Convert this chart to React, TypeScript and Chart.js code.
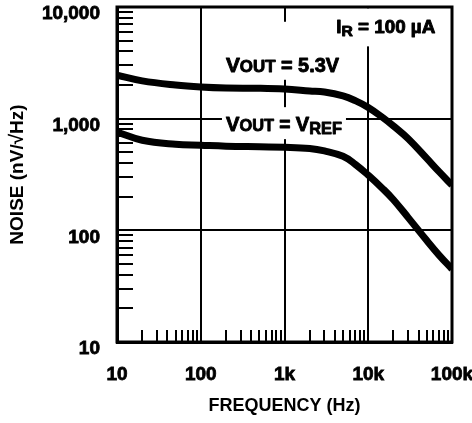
import React, { useEffect, useRef } from "react";
import { Chart, registerables } from "chart.js";

Chart.register(...registerables);

// ---- data ----
const frequencies = [10, 20, 50, 100, 200, 500, 1000, 2000, 3000, 5000, 7000, 10000, 15000, 20000, 30000, 50000, 70000, 100000];
const noiseVout53 = [2450, 2180, 2000, 1920, 1880, 1870, 1840, 1770, 1730, 1600, 1450, 1260, 1020, 860, 660, 440, 335, 254];
const noiseVoutVref = [760, 641, 590, 578, 567, 560, 555, 541, 514, 460, 390, 312, 235, 188, 130, 81, 60, 45];

const xTickValues = [10, 100, 1000, 10000, 100000];
const xTickLabels = ["10", "100", "1k", "10k", "100k"];
const yTickValues = [10, 100, 1000, 10000];
const yTickLabels = ["10", "100", "1,000", "10,000"];
const minorMultipliers = [2, 3, 4, 5, 6, 7, 8, 9];

const xTitle = "FREQUENCY (Hz)";
const yTitle = "NOISE (nV/\u221AHz)";

const FONT = "'Liberation Sans', Arial, Helvetica, sans-serif";

function minorsFor(majors: number[]) {
  const out: number[] = [];
  for (let i = 0; i < majors.length - 1; i++) {
    for (const m of minorMultipliers) out.push(majors[i] * m);
  }
  return out;
}
const xMinor = minorsFor(xTickValues);
const yMinor = minorsFor(yTickValues);

type Seg = { text: string; size: number; dy?: number };
type Label = { f: number; v: number; segs: Seg[]; width: number; box: [number, number, number, number] };

const labels: Label[] = [
  {
    f: 200, v: 2630, width: 113, box: [-4, -50, 120, 58],
    segs: [
      { text: "V", size: 21 },
      { text: "OUT", size: 17 },
      { text: " = ", size: 20 },
      { text: "5.3V", size: 20 },
    ],
  },
  {
    f: 200, v: 773, width: 116, box: [-4, -24, 124, 32],
    segs: [
      { text: "V", size: 21 },
      { text: "OUT", size: 17 },
      { text: " = ", size: 20 },
      { text: "V", size: 21 },
      { text: "REF", size: 17, dy: 2.5 },
    ],
  },
  {
    f: 4150, v: 5808, width: 99, box: [-8, -25, 115, 38],
    segs: [
      { text: "I", size: 18 },
      { text: "R", size: 15, dy: 3 },
      { text: " = ", size: 18 },
      { text: "100 \u00B5A", size: 18 },
    ],
  },
];

const decoPlugin = {
  id: "deco",
  beforeDatasetsDraw(chart: any) {
    const { ctx, chartArea: a, scales } = chart;
    const x = scales.x, y = scales.y;
    ctx.save();
    ctx.strokeStyle = "#000";
    ctx.lineWidth = 2;
    ctx.beginPath();
    for (const v of yMinor) {
      const py = Math.round(y.getPixelForValue(v));
      ctx.moveTo(a.left, py);
      ctx.lineTo(a.left + 16, py);
    }
    for (const v of xMinor) {
      const px = Math.round(x.getPixelForValue(v));
      ctx.moveTo(px, a.bottom);
      ctx.lineTo(px, a.bottom - 12);
    }
    ctx.stroke();

    // labels with white backgrounds
    for (const l of labels) {
      const ax = x.getPixelForValue(l.f);
      const ay = y.getPixelForValue(l.v);
      ctx.fillStyle = "#fff";
      ctx.fillRect(ax + l.box[0], ay + l.box[1], l.box[2], l.box[3]);
      let natural = 0;
      for (const s of l.segs) {
        ctx.font = `bold ${s.size}px ${FONT}`;
        natural += ctx.measureText(s.text).width;
      }
      const k = l.width / natural;
      ctx.save();
      ctx.translate(ax, ay);
      ctx.scale(k, 1);
      ctx.fillStyle = "#000";
      ctx.strokeStyle = "#000";
      ctx.lineWidth = 0.9;
      ctx.lineJoin = "round";
      ctx.textBaseline = "alphabetic";
      ctx.textAlign = "left";
      let cx = 0;
      for (const s of l.segs) {
        ctx.font = `bold ${s.size}px ${FONT}`;
        ctx.fillText(s.text, cx, s.dy || 0);
        ctx.strokeText(s.text, cx, s.dy || 0);
        cx += ctx.measureText(s.text).width;
      }
      ctx.restore();
    }

    ctx.lineWidth = 3;
    ctx.strokeStyle = "#000";
    ctx.strokeRect(a.left, a.top, a.right - a.left, a.bottom - a.top);
    ctx.restore();
  },
};

function isMajor(v: number, majors: number[]) {
  return majors.some((m) => Math.abs(m - v) < 1e-6 * m);
}

function zeroPad(s: any) {
  s.paddingTop = 0;
  s.paddingBottom = 0;
  s.paddingLeft = 0;
  s.paddingRight = 0;
}

export default function App() {
  const ref = useRef<HTMLCanvasElement | null>(null);
  useEffect(() => {
    document.body.style.margin = "0";
    const canvas = ref.current;
    if (!canvas) return;
    const tickFont = { family: FONT, size: 19, weight: "bold" as const };
    const xTitleFont = { family: FONT, size: 18, weight: "bold" as const };
    const yTitleFont = { family: FONT, size: 19, weight: "bold" as const };
    const chart = new Chart(canvas, {
      type: "line",
      data: {
        datasets: [
          {
            label: "VOUT = 5.3V",
            data: frequencies.map((f, i) => ({ x: f, y: noiseVout53[i] })),
            borderColor: "#000",
            borderWidth: 7,
            pointRadius: 0,
            tension: 0.4,
            fill: false,
          },
          {
            label: "VOUT = VREF",
            data: frequencies.map((f, i) => ({ x: f, y: noiseVoutVref[i] })),
            borderColor: "#000",
            borderWidth: 7,
            pointRadius: 0,
            tension: 0.4,
            fill: false,
          },
        ],
      },
      options: {
        animation: false,
        responsive: false,
        layout: { padding: { top: 7, right: 20, left: 0, bottom: 0 } },
        plugins: { legend: { display: false }, tooltip: { enabled: false } },
        scales: {
          x: {
            type: "logarithmic",
            min: 10,
            max: 100000,
            afterBuildTicks: (s: any) => {
              s.ticks = [...xTickValues, ...xMinor].sort((p, q) => p - q).map((v) => ({ value: v }));
            },
            afterFit: (s: any) => {
              s.height = 81;
              zeroPad(s);
            },
            grid: {
              color: (c: any) => (c.tick && isMajor(c.tick.value, xTickValues) ? "#000" : "rgba(0,0,0,0)"),
              lineWidth: 2,
              drawTicks: false,
            },
            border: { display: true, color: "#000", width: 3 },
            ticks: {
              autoSkip: false,
              maxRotation: 0,
              padding: 21,
              color: "#000",
              textStrokeColor: "#000",
              textStrokeWidth: 0.8,
              font: tickFont,
              callback: (v: any) => {
                const i = xTickValues.findIndex((m) => Math.abs(m - Number(v)) < 1e-6 * m);
                return i >= 0 ? xTickLabels[i] : "";
              },
            },
            title: { display: true, text: xTitle, color: "#000", font: xTitleFont, padding: { top: 6, bottom: 6 } },
          },
          y: {
            type: "logarithmic",
            min: 10,
            max: 10000,
            afterBuildTicks: (s: any) => {
              s.ticks = [...yTickValues, ...yMinor].sort((p, q) => p - q).map((v) => ({ value: v }));
            },
            afterFit: (s: any) => {
              s.width = 117;
              zeroPad(s);
            },
            grid: {
              color: (c: any) => (c.tick && isMajor(c.tick.value, yTickValues) ? "#000" : "rgba(0,0,0,0)"),
              lineWidth: 2,
              drawTicks: false,
            },
            border: { display: true, color: "#000", width: 3 },
            ticks: {
              autoSkip: false,
              padding: 17,
              labelOffset: 7,
              color: "#000",
              textStrokeColor: "#000",
              textStrokeWidth: 0.8,
              font: tickFont,
              callback: (v: any) => {
                const i = yTickValues.findIndex((m) => Math.abs(m - Number(v)) < 1e-6 * m);
                return i >= 0 ? yTickLabels[i] : "";
              },
            },
            title: { display: true, text: yTitle, color: "#000", font: yTitleFont, padding: { top: 6, bottom: 6 } },
          },
        },
      },
      plugins: [decoPlugin],
    } as any);
    return () => chart.destroy();
  }, []);
  return (
    <div style={{ width: 472, height: 423 }}>
      <canvas ref={ref} width={472} height={423} />
    </div>
  );
}
